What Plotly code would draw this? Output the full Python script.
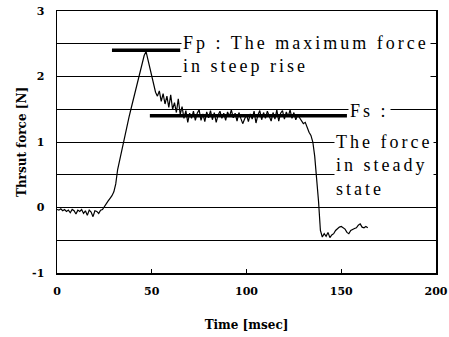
import plotly.graph_objects as go

time_ms = list(range(0, 165))
force_n = [
    -0.03, -0.04, -0.02, -0.05, -0.03, -0.06, -0.04, -0.08, -0.03, -0.05,
    -0.10, -0.04, -0.06, -0.03, -0.09, -0.05, -0.12, -0.04, -0.07, -0.14,
    -0.05, -0.06, -0.09, -0.04, -0.03, 0.02, 0.06, 0.10, 0.14, 0.18,
    0.24, 0.36, 0.58, 0.72, 0.85, 0.97, 1.10, 1.24, 1.38, 1.50,
    1.62, 1.73, 1.85, 1.96, 2.06, 2.18, 2.32, 2.38, 2.26, 2.12,
    2.00, 1.88, 1.76, 1.70, 1.78, 1.62, 1.74, 1.58, 1.70, 1.53,
    1.72, 1.50, 1.60, 1.45, 1.66, 1.42, 1.54, 1.36, 1.48, 1.30,
    1.44, 1.36, 1.47, 1.33, 1.44, 1.49, 1.33, 1.43, 1.31, 1.46,
    1.37, 1.48, 1.34, 1.45, 1.30, 1.41, 1.47, 1.36, 1.44, 1.33,
    1.46, 1.39, 1.49, 1.37, 1.44, 1.32, 1.45, 1.36, 1.28, 1.35,
    1.42, 1.31, 1.43, 1.35, 1.47, 1.29, 1.41, 1.48, 1.34, 1.45,
    1.36, 1.47, 1.38, 1.32, 1.45, 1.35, 1.49, 1.32, 1.44, 1.48,
    1.35, 1.46, 1.39, 1.49, 1.36, 1.45, 1.34, 1.41, 1.37, 1.33,
    1.28, 1.30, 1.22, 1.15, 1.10, 1.00, 0.78, 0.45, 0.10, -0.35,
    -0.45, -0.40, -0.44, -0.38, -0.46, -0.42, -0.40, -0.35, -0.32, -0.30,
    -0.29, -0.31, -0.33, -0.38, -0.40, -0.35, -0.33, -0.32, -0.31, -0.27,
    -0.25, -0.30, -0.31, -0.29, -0.31,
]

fp_level = 2.40
fp_span = [29, 65]
fs_level = 1.40
fs_span = [49, 153]

x_ticks = [0, 50, 100, 150, 200]
y_ticks = [-1, 0, 1, 2, 3]

fig = go.Figure()
fig.add_trace(go.Scatter(x=time_ms, y=force_n, mode="lines",
                         line=dict(color="black", width=1.2), showlegend=False))
fig.add_trace(go.Scatter(x=fp_span, y=[fp_level, fp_level], mode="lines",
                         line=dict(color="black", width=3.5), showlegend=False))
fig.add_trace(go.Scatter(x=fs_span, y=[fs_level, fs_level], mode="lines",
                         line=dict(color="black", width=3.5), showlegend=False))

ann_font = dict(family="Liberation Serif", size=18, color="black")
sp = "<span style='letter-spacing:3px'>"
fig.add_annotation(x=65.5, y=2.33, xref="x", yref="y", xanchor="left", yanchor="middle",
                   text=sp + "Fp : The maximum force</span><br>" + sp + "in steep rise</span>",
                   showarrow=False, align="left", bgcolor="white", font=ann_font)
fig.add_annotation(x=153.3, y=1.48, xref="x", yref="y", xanchor="left", yanchor="middle",
                   text=sp + "Fs :</span>", showarrow=False, align="left",
                   bgcolor="white", font=ann_font)
fig.add_annotation(x=146.0, y=0.64, xref="x", yref="y", xanchor="left", yanchor="middle",
                   text=sp + "The force</span><br>" + sp + "in steady</span><br>" + sp + "state</span>",
                   showarrow=False, align="left", bgcolor="white", font=ann_font)

tick_font = dict(family="DejaVu Serif", size=11, color="black", weight="bold")
title_font = dict(family="DejaVu Serif", size=12, color="black", weight="bold")

fig.update_layout(
    width=449, height=337,
    margin=dict(l=57, r=13, t=11, b=64, autoexpand=False),
    paper_bgcolor="white", plot_bgcolor="white",
    xaxis=dict(range=[0, 200], tickvals=x_ticks, ticktext=[str(v) for v in x_ticks],
               showgrid=False, zeroline=False, showline=True, linecolor="black",
               linewidth=1.5, mirror=True, ticks="inside", ticklen=4, tickcolor="black",
               tickfont=tick_font, ticklabelstandoff=7, automargin=False,
               ticklabeloverflow="allow",
               title=dict(text="Time [msec]", font=title_font, standoff=24)),
    yaxis=dict(range=[-1, 3], tickvals=y_ticks, ticktext=[str(v) for v in y_ticks],
               showgrid=True, gridcolor="black", gridwidth=1,
               minor=dict(dtick=0.5, showgrid=True, gridcolor="black", gridwidth=1),
               zeroline=False, showline=True, linecolor="black", linewidth=1.5, mirror=True,
               ticks="", tickfont=tick_font, ticklabelstandoff=9, automargin=False,
               ticklabeloverflow="allow",
               title=dict(text="Thrsut force [N]", font=title_font, standoff=3)),
)

fig.write_html("out.html",
               config={"displayModeBar": False, "staticPlot": True},
               post_script="document.body.style.margin='0';document.documentElement.style.overflow='hidden';")
